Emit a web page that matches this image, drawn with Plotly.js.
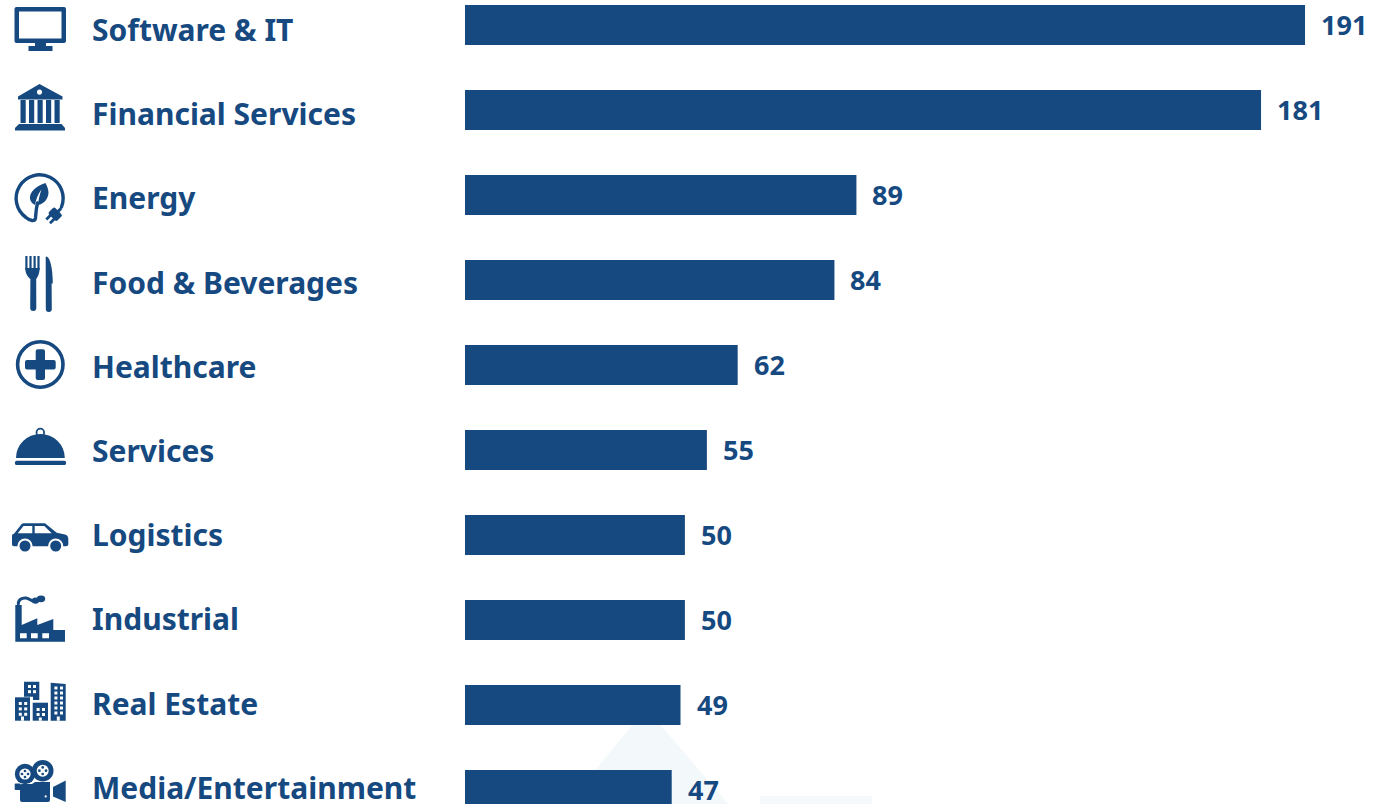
<!DOCTYPE html>
<html>
<head>
<meta charset="utf-8">
<script src="https://cdn.plot.ly/plotly-3.0.1.min.js"></script>
<style>html,body{margin:0;padding:0;background:#fff;overflow:hidden}#chart{width:1389px;height:804px}</style>
</head>
<body>
<div id="chart"></div>
<script>
// Sectors and their counts
const sectors = ['Software & IT','Financial Services','Energy','Food & Beverages','Healthcare','Services','Logistics','Industrial','Real Estate','Media/Entertainment'];
const counts = [191,181,89,84,62,55,50,50,49,47];

const W = 1389, H = 804;
const NAVY = '#16497f';
const FONT = '"Noto Sans", "Open Sans", sans-serif';
const PX_PER_UNIT = 4.398, BAR_ORIGIN = 465, ROW = 85, FIRST_ROW = 25;
const LABEL_X = 89.5, LABEL_TOP = 29.5, LABEL_STEP = 84.2;
const px = x => x / W, py = y => 1 - y / H;

// Row of small white squares, used for the building windows
function windows(xs, ys, s) {
  return xs.flatMap(x => ys.map(y => `<rect x="${x}" y="${y}" width="${s}" height="${s}" fill="#fff"/>`)).join('');
}

// Pictograms drawn in page pixels; each one has the 60px box that starts at its "top"
const icons = [
 {top: 0, art: `<path fill-rule="evenodd" d="M16.5 7H64a2 2 0 0 1 2 2V41a2 2 0 0 1-2 2H16.5a2 2 0 0 1-2-2V9a2 2 0 0 1 2-2ZM19 11.5V38.5H61.5V11.5Z"/><rect x="35" y="43" width="11" height="4"/><rect x="28.5" y="46" width="24" height="5"/>`},
 {top: 80, art: `<path fill-rule="evenodd" d="M39.5 84 62.5 96.5V99.5H18V96.5ZM39.5 89.5a2.6 2.6 0 1 0 .01 0Z"/>
   <rect x="20.5" y="100" width="5.2" height="23"/><rect x="29" y="100" width="5.2" height="23"/><rect x="37.5" y="100" width="5.2" height="23"/><rect x="46" y="100" width="5.2" height="23"/><rect x="54.5" y="100" width="5.2" height="23"/>
   <path d="M19 124H61.5L65 128V130.5H15V128Z"/>`},
 {top: 170, art: `<path fill="none" stroke="${NAVY}" stroke-width="3.4" stroke-linecap="round" d="M61.5 207A23.5 23.5 0 1 0 26 217.5C30 221 35 222 35.5 218C36 213 36 209 37.5 203"/>
   <path d="M45.5 183C36 186 29.5 192 30 198.5C30.4 201.5 32 203.5 35 205C36 199 38 194 41.5 189.5C39.5 195 38.5 200 38 205C44 204 48 199 48.5 193C48.6 189 47 186 45.5 183Z"/>
   <g transform="translate(54.5 215) rotate(135)"><rect x="-5.5" y="-6" width="9" height="12" rx="2"/><rect x="2" y="-4" width="7" height="2.8"/><rect x="2" y="1.2" width="7" height="2.8"/><rect x="-9.5" y="-1.5" width="5" height="3"/></g>`},
 {top: 252, art: `<rect x="25.3" y="256" width="2.2" height="14"/><rect x="29.4" y="256" width="2.2" height="14"/><rect x="33.5" y="256" width="2.2" height="14"/><rect x="37.4" y="256" width="2.2" height="14"/>
   <path d="M25.3 268H39.6C39.6 274 37.6 277 36.2 279L36.3 308A3 3 0 0 1 30.2 308L30.4 279C28 277 25.3 274 25.3 268Z"/>
   <path d="M46.5 256.5C50 257 52.8 268 52.8 283.5H51.6L51.8 309A3 3 0 0 1 45.8 309L45.7 258C45.7 257 46 256.5 46.5 256.5Z"/>`},
 {top: 335, art: `<circle cx="40.3" cy="364.5" r="22.7" fill="none" stroke="${NAVY}" stroke-width="3.6"/>
   <path d="M37.7 349.3H43A2 2 0 0 1 45 351.3V360H53.7A2 2 0 0 1 55.7 362V367.5A2 2 0 0 1 53.7 369.5H45V378A2 2 0 0 1 43 380H37.7A2 2 0 0 1 35.7 378V369.5H27A2 2 0 0 1 25 367.5V362A2 2 0 0 1 27 360H35.7V351.3A2 2 0 0 1 37.7 349.3Z"/>`},
 {top: 420, art: `<circle cx="40.3" cy="432.5" r="3.8" fill="none" stroke="${NAVY}" stroke-width="1.8"/>
   <path d="M16 458A24.4 24 0 0 1 64.8 458Z"/>
   <rect x="15" y="460.7" width="51" height="4.4" rx="1.6"/>`},
 {top: 505, art: `<path d="M12 536C12 534.5 13 534 14 533.8L21.7 524C22 523.5 23 523.2 24 523.2H45L56.7 532.8L65 534.5C67 535 68.3 536.5 68.3 539V544C68.3 545.5 67.5 546.2 66 546.2H14C12.8 546.2 12 545.5 12 544Z"/>
   <path fill="#fff" d="M23.5 526H32.3V533.3H17.7ZM34.7 526H44.3L51.7 533.3H34.7Z"/>
   <circle cx="25" cy="546" r="7.6" fill="#fff"/><circle cx="55.7" cy="546" r="7.6" fill="#fff"/>
   <circle cx="25" cy="546" r="5.5"/><circle cx="55.7" cy="546" r="5.5"/>`},
 {top: 590, art: `<path d="M15.3 641.7V605H21.7V625L37.3 618.3V625L53.3 619V630H65V641.7Z"/>
   <path fill="#fff" d="M20 633.3H26.7V638.3H20ZM31 633.3H37.7V638.3H31ZM42.3 633.3H49V638.3H42.3Z"/>
   <path fill="none" stroke="${NAVY}" stroke-width="3" stroke-linecap="round" d="M18.3 604C18 600 22 597.5 26 598C30 598.6 31 601.5 35 601.5"/>
   <ellipse cx="35.5" cy="600.6" rx="3.6" ry="3.2"/><ellipse cx="41" cy="598.8" rx="4.2" ry="3.4"/>`},
 {top: 675, art: `<rect x="15" y="697.3" width="15" height="23.4"/><path d="M24 681.7H39.3V700H33V696.7H24Z"/><rect x="32.7" y="702.7" width="15.3" height="18"/><path d="M50.7 682.7 65.7 684V720.7H50.7Z"/>
   ${windows([28,33],[685,690.2],3)}
   ${windows([18.8,24.2],[702,707.4,712.8],3)}
   ${windows([36.6,42],[708,713],3)}
   ${windows([54.4,60],[686.5,691.5,696.5,701.5,706.5,711.5],3)}
   <path fill="#fff" d="M21 716.5H24V720.7H21ZM38.8 717.5H41.8V720.7H38.8ZM56.8 716.5H59.8V720.7H56.8Z"/>`},
 {top: 750, art: `<circle cx="25" cy="774" r="10.2"/><circle cx="42.7" cy="770.7" r="10.8"/>
   <circle cx="25" cy="774" r="5.6" fill="#fff"/><circle cx="42.7" cy="770.7" r="6" fill="#fff"/>
   <g>${[[25,771],[22,774],[28,774],[25,777],[42.7,767.4],[39.4,770.7],[46,770.7],[42.7,774]].map(p => `<circle cx="${p[0]}" cy="${p[1]}" r="1.35"/>`).join('')}</g>
   <path d="M22 784H32L35 782H50V800A2 2 0 0 1 48 802H22A2 2 0 0 1 20 800V786A2 2 0 0 1 22 784Z"/><rect x="14.7" y="783.5" width="6" height="6.5" rx="1"/>
   <path d="M53 787 65.7 780.5V802L53 796.5Z"/>
   <circle cx="45.7" cy="796.4" r="1.1" fill="#fff"/>`}
];

const iconImages = icons.map(ic => ({
  source: 'data:image/svg+xml;charset=utf-8,' + encodeURIComponent(
    `<svg xmlns="http://www.w3.org/2000/svg" width="60" height="60" viewBox="10 ${ic.top} 60 60"><g fill="${NAVY}">${ic.art}</g></svg>`),
  xref: 'paper', yref: 'paper',
  x: px(10), y: py(ic.top), sizex: px(60), sizey: 60 / H,
  xanchor: 'left', yanchor: 'top', sizing: 'stretch', layer: 'above'
}));

const sectorLabels = sectors.map((s, i) => ({
  text: s, xref: 'paper', yref: 'paper', x: px(LABEL_X), y: py(LABEL_TOP + LABEL_STEP * i),
  xanchor: 'left', yanchor: 'middle', showarrow: false,
  font: {family: FONT, size: 30, color: NAVY, weight: 700}
}));

const valueLabels = counts.map((v, i) => ({
  text: String(v), xref: 'x', yref: 'y', x: v, y: sectors[i],
  xanchor: 'left', yanchor: 'middle', xshift: 14, yshift: 1, showarrow: false,
  font: {family: FONT, size: 27, color: NAVY, weight: 700}
}));

// Pale backdrop emblem, only its lower part reaches the page
const backdrop = [
  {type: 'path', xref: 'paper', yref: 'paper', layer: 'below', line: {width: 0}, fillcolor: '#f3f8fb',
   path: `M${px(646)} ${py(708)}L${px(568)} ${py(804)}L${px(728)} ${py(804)}Z`},
  {type: 'rect', xref: 'paper', yref: 'paper', layer: 'below', line: {width: 0}, fillcolor: '#f5f9fc',
   x0: px(760), x1: px(872), y0: py(804), y1: py(796)}
];

Plotly.newPlot('chart', [{
  type: 'bar', orientation: 'h', x: counts, y: sectors,
  marker: {color: NAVY, line: {width: 0}}, hoverinfo: 'skip'
}], {
  width: W, height: H, margin: {l: 0, r: 0, t: 0, b: 0, pad: 0},
  paper_bgcolor: '#fff', plot_bgcolor: 'rgba(0,0,0,0)',
  bargap: 1 - 40 / ROW, showlegend: false,
  xaxis: {visible: false, range: [-BAR_ORIGIN / PX_PER_UNIT, (W - BAR_ORIGIN) / PX_PER_UNIT], fixedrange: true},
  yaxis: {visible: false, type: 'category', categoryorder: 'array', categoryarray: sectors,
          range: [(H - FIRST_ROW) / ROW, -FIRST_ROW / ROW], fixedrange: true},
  annotations: sectorLabels.concat(valueLabels),
  images: iconImages,
  shapes: backdrop
}, {displayModeBar: false, staticPlot: true});
</script>
</body>
</html>
